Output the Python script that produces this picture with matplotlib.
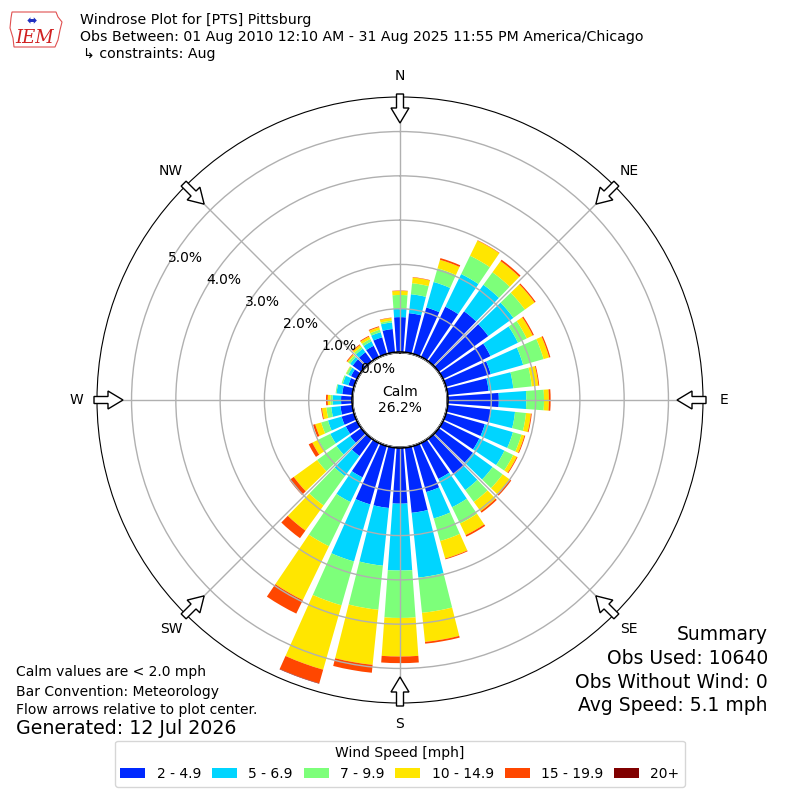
import numpy as np
import matplotlib
matplotlib.use("Agg")
import matplotlib.pyplot as plt
from matplotlib.patches import Circle, FancyArrow, Polygon, Rectangle
from matplotlib.transforms import offset_copy

# direction bins (deg, meteorological, 10 deg each)
directions = [0, 10, 20, 30, 40, 50, 60, 70, 80, 90, 100, 110,
              120, 130, 140, 150, 160, 170, 180, 190, 200, 210, 220, 230,
              240, 250, 260, 270, 280, 290, 300, 310, 320, 330, 340, 350]
speed_labels = ["2 - 4.9", "5 - 6.9", "7 - 9.9", "10 - 14.9", "15 - 19.9", "20+"]

# percent of observations in each direction for every speed bin
pct_2_5 = [0.81, 0.91, 1.11, 1.28, 1.41, 1.40, 1.21, 1.07, 0.95, 1.17, 1.01, 0.93,
           0.93, 0.97, 1.02, 0.92, 1.10, 1.50, 1.28, 1.39, 1.39, 0.88, 0.50, 0.33,
           0.30, 0.31, 0.29, 0.27, 0.25, 0.15, 0.17, 0.26, 0.27, 0.30, 0.41, 0.55]
pct_5_7 = [0.20, 0.43, 0.60, 0.82, 0.74, 0.70, 0.69, 0.76, 0.56, 0.62, 0.54, 0.66,
           0.63, 0.55, 0.43, 0.71, 0.62, 1.47, 1.51, 1.31, 1.34, 0.62, 0.56, 0.38,
           0.39, 0.32, 0.21, 0.19, 0.13, 0.13, 0.07, 0.07, 0.10, 0.11, 0.12, 0.15]
pct_7_10 = [0.30, 0.25, 0.32, 0.46, 0.35, 0.32, 0.22, 0.48, 0.42, 0.40, 0.25, 0.20,
            0.22, 0.28, 0.33, 0.41, 0.53, 0.80, 1.07, 1.00, 1.03, 1.11, 0.82, 0.54,
            0.30, 0.16, 0.11, 0.05, 0.02, 0.03, 0.05, 0.05, 0.05, 0.06, 0.06, 0.04]
pct_10_15 = [0.09, 0.13, 0.20, 0.38, 0.31, 0.27, 0.15, 0.13, 0.15, 0.11, 0.11, 0.07,
             0.09, 0.20, 0.26, 0.29, 0.41, 0.66, 0.87, 1.25, 1.51, 1.35, 0.70, 0.65,
             0.15, 0.14, 0.10, 0.06, 0.00, 0.00, 0.01, 0.03, 0.05, 0.06, 0.06, 0.06]
pct_15_20 = [0.01, 0.01, 0.04, 0.01, 0.04, 0.03, 0.03, 0.03, 0.02, 0.04, 0.02, 0.02,
             0.02, 0.04, 0.04, 0.04, 0.02, 0.04, 0.15, 0.18, 0.32, 0.34, 0.21, 0.12,
             0.09, 0.05, 0.02, 0.04, 0.00, 0.00, 0.00, 0.02, 0.02, 0.02, 0.02, 0.01]
pct_20up = [0.0, 0.0, 0.0, 0.0, 0.0, 0.0, 0.0, 0.0, 0.0, 0.0, 0.0, 0.0,
            0.0, 0.0, 0.0, 0.0, 0.0, 0.0, 0.0, 0.0, 0.01, 0.0, 0.0, 0.0,
            0.0, 0.0, 0.0, 0.0, 0.0, 0.0, 0.0, 0.0, 0.0, 0.0, 0.0, 0.0]

calm_pct = 26.2
obs_used = 10640
obs_without_wind = 0
avg_speed = 5.1
rticks = [0, 1, 2, 3, 4, 5]
compass = ["N", "NE", "E", "SE", "S", "SW", "W", "NW"]

colors = plt.cm.jet(np.linspace(0, 1, 7)[1:])

fig = plt.figure(figsize=(8, 8), dpi=100)
ax = fig.add_axes([97 / 800., 97 / 800., 606 / 800., 606 / 800.], projection="polar")
ax.set_theta_zero_location("N")
ax.set_theta_direction(-1)

theta = np.deg2rad(directions)
width = np.deg2rad(8.2)
bottom = np.zeros(len(directions))
series = [pct_2_5, pct_5_7, pct_7_10, pct_10_15, pct_15_20, pct_20up]
handles = []
for vals, col, lbl in zip(series, colors, speed_labels):
    ax.bar(theta, vals, width=width, bottom=bottom, color=col, linewidth=0, zorder=1)
    bottom = bottom + np.array(vals)
    handles.append(Rectangle((0, 0), 1, 1, fc=col, ec="none", label=lbl))

ax.set_ylim(0, 5.78)
ax.set_rorigin(-1.061)
ax.set_yticks(rticks)
ax.set_yticklabels([])
ax.set_xticks(np.deg2rad(np.arange(0, 360, 45)))
ax.set_xticklabels([])
ax.grid(True, color="#b0b0b0", lw=1)
ax.set_axisbelow(False)
ax.tick_params(length=0)

# radial labels
lbl_tr = offset_copy(ax.transData, fig=fig, x=18, y=8, units="dots")
for v in rticks:
    ax.text(np.deg2rad(300), v, "%.1f%%" % v, transform=lbl_tr, ha="center",
            va="center", fontsize=10, zorder=6)

# calm circle
ax.add_patch(Circle((0.5, 0.5), 48 / 606., transform=ax.transAxes, fc="white",
                    ec="black", lw=1.2, zorder=4))
ax.text(0.5, 0.5, "Calm\n%.1f%%" % calm_pct, transform=ax.transAxes, ha="center",
        va="center", fontsize=10, zorder=5)

# compass labels and flow arrows
for i, name in enumerate(compass):
    a = np.deg2rad(i * 45)
    s, c = np.sin(a), np.cos(a)
    ax.text(0.5 + 324 / 606. * s, 0.5 + 324 / 606. * c, name, transform=ax.transAxes,
            ha="center", va="center", fontsize=10)
    r0 = 306 / 606.
    ax.add_patch(FancyArrow(0.5 + r0 * s, 0.5 + r0 * c, -29 / 606. * s, -29 / 606. * c,
                            width=7 / 606., head_width=18 / 606., head_length=15 / 606.,
                            length_includes_head=True, transform=ax.transAxes,
                            fc="white", ec="black", lw=1, clip_on=False, zorder=6))

# header
fig.text(80 / 800., 1 - 20 / 800., "Windrose Plot for [PTS] Pittsburg", fontsize=10.15,
         va="center")
fig.text(80 / 800., 1 - 37 / 800.,
         "Obs Between: 01 Aug 2010 12:10 AM - 31 Aug 2025 11:55 PM America/Chicago",
         fontsize=10.15, va="center")
fig.text(83 / 800., 1 - 54 / 800., "\u21b3 constraints: Aug", fontsize=10.15, va="center")

# IEM logo (rough)
iowa = [(12, 12), (56, 12), (58, 17), (62, 22), (60, 30), (58, 40), (55, 47),
        (14, 47), (13, 38), (10, 28), (11, 18)]
fig.patches.append(Polygon([(x / 800., 1 - y / 800.) for x, y in iowa], closed=True,
                           fc="none", ec="#e05050", lw=0.8, transform=fig.transFigure))
fig.text(35 / 800., 1 - 38 / 800., "IEM", color="#d02020", fontsize=13, style="italic",
         family="DejaVu Serif", ha="center", va="center")
fig.text(32 / 800., 1 - 22 / 800., "\u2b0c", color="#2030c0", fontsize=9, ha="center",
         va="center")

# footer notes
fig.text(16 / 800., 1 - 672 / 800., "Calm values are < 2.0 mph", fontsize=10, va="center")
fig.text(16 / 800., 1 - 692 / 800., "Bar Convention: Meteorology", fontsize=10, va="center")
fig.text(16 / 800., 1 - 710 / 800., "Flow arrows relative to plot center.", fontsize=10,
         va="center")
fig.text(16 / 800., 1 - 729 / 800., "Generated: 12 Jul 2026", fontsize=13.7, va="center")

summary = ["Summary", "Obs Used: %d" % obs_used, "Obs Without Wind: %d" % obs_without_wind,
           "Avg Speed: %.1f mph" % avg_speed]
for i, line in enumerate(summary):
    fig.text(768 / 800., 1 - (635 + 23.5 * i) / 800., line, fontsize=13.5, ha="right",
             va="center")

fig.legend(handles=handles, loc="lower center", bbox_to_anchor=(0.5, 0.008), ncol=6,
           title="Wind Speed [mph]", fontsize=10, title_fontsize=10, handlelength=1.8,
           handletextpad=0.8, columnspacing=0.8, fancybox=True)

fig.savefig("out.png", dpi=100)
